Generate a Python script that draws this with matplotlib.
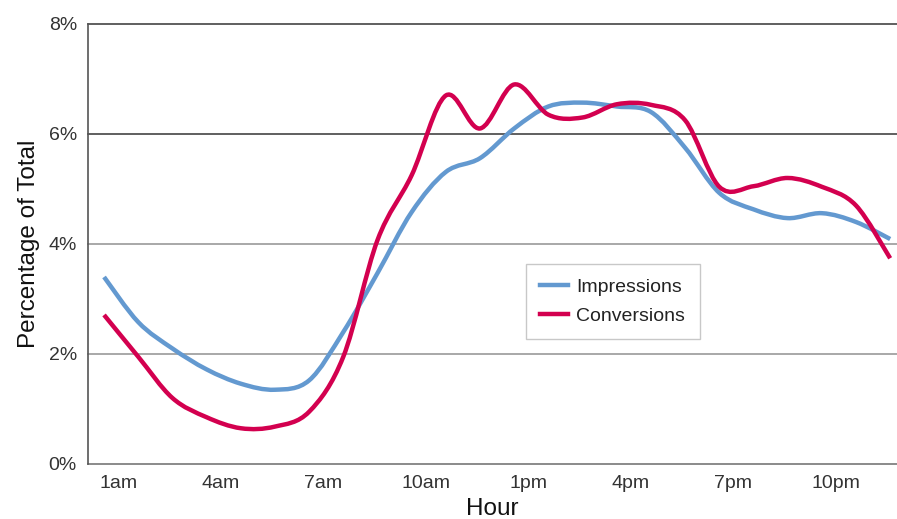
import numpy as np
import matplotlib
matplotlib.use("Agg")
import matplotlib.pyplot as plt
from matplotlib.path import Path
from matplotlib.patches import PathPatch
from matplotlib.lines import Line2D

# hourly share of total (percent)
hours = np.arange(24)
impressions = [3.40, 2.58, 2.10, 1.72, 1.46, 1.35, 1.52, 2.40, 3.47, 4.58,
               5.31, 5.56, 6.10, 6.50, 6.57, 6.50, 6.40, 5.75, 4.93, 4.63,
               4.47, 4.56, 4.40, 4.09]
conversions = [2.71, 1.95, 1.20, 0.85, 0.65, 0.68, 0.95, 1.95, 4.07, 5.25,
               6.70, 6.10, 6.90, 6.35, 6.30, 6.54, 6.53, 6.25, 5.04, 5.05,
               5.20, 5.04, 4.70, 3.74]
tick_labels = ["1am", "4am", "7am", "10am", "1pm", "4pm", "7pm", "10pm"]
y_ticks = [0, 2, 4, 6, 8]

blue = '#6399d0'
red = '#d3004f'


def smooth_path(x, y):
    # bezier through the points, like a "smoothed line" in a spreadsheet
    p = np.column_stack([x, y]).astype(float)
    verts = [p[0]]
    codes = [Path.MOVETO]
    n = len(p)
    for i in range(n - 1):
        p0 = p[max(i - 1, 0)]
        p1, p2 = p[i], p[i + 1]
        p3 = p[min(i + 2, n - 1)]
        verts += [p1 + (p2 - p0) / 6, p2 - (p3 - p1) / 6, p2]
        codes += [Path.CURVE4] * 3
    return Path(verts, codes)


plt.rcParams['font.family'] = ['Liberation Sans', 'DejaVu Sans']

fig = plt.figure(figsize=(8.97, 5.19), dpi=100)
ax = fig.add_axes([0.0981, 0.106, 0.9019, 0.8478])

for vals, col, z in [(impressions, blue, 3), (conversions, red, 4)]:
    ax.add_patch(PathPatch(smooth_path(hours, vals), fill=False, edgecolor=col,
                           lw=3.2, joinstyle='round', capstyle='butt', zorder=z))

ax.set_xlim(-0.47, 23.2)
ax.set_ylim(0, 8)

# gridlines
for v in y_ticks:
    c = '#444444' if v >= 6 else ('#9a9a9a' if v > 0 else '#777777')
    ax.axhline(v, color=c, lw=1.2, zorder=1, clip_on=False)

for s in ['top', 'right', 'bottom']:
    ax.spines[s].set_visible(False)
ax.spines['left'].set_color('#555555')
ax.spines['left'].set_linewidth(1.2)

ax.set_yticks(y_ticks)
ax.set_yticklabels([f"{v}%" for v in y_ticks])
ax.set_xticks(np.arange(len(tick_labels)) * 3 + 0.41)
ax.set_xticklabels(tick_labels)
ax.tick_params(length=0, labelsize=14, colors='#333333', pad=8)

ax.set_xlabel("Hour", fontsize=17.5, color='#111111', labelpad=4)
ax.set_ylabel("Percentage of Total", fontsize=17.5, color='#111111', labelpad=6)

handles = [Line2D([], [], color=blue, lw=3.2), Line2D([], [], color=red, lw=3.2)]
leg = ax.legend(handles, ['Impressions', 'Conversions'], loc='upper left',
                bbox_to_anchor=(0.541, 0.4545), borderaxespad=0, fontsize=14,
                frameon=True, fancybox=False, handlelength=1.45, handletextpad=0.4,
                borderpad=0.75, labelspacing=0.55)
leg.get_frame().set_edgecolor('#bbbbbb')
leg.get_frame().set_linewidth(1.0)
for t in leg.get_texts():
    t.set_color('#222222')

fig.savefig("out.png", dpi=100)
